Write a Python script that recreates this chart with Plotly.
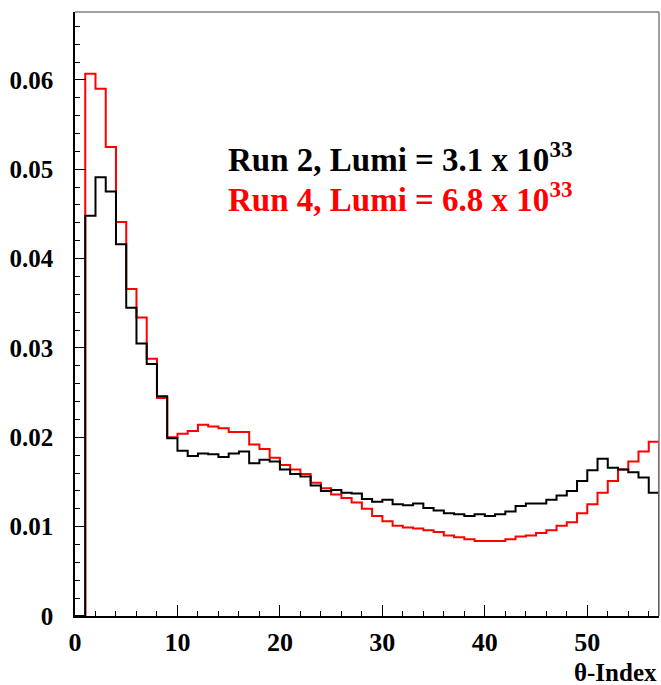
import plotly.graph_objects as go

# bin edges 0..57 (width 1); bin 0 is empty
bin_edges = list(range(0, 58))

run2_values = [
    0.0,
    0.0448, 0.0491, 0.0475, 0.0416, 0.0345, 0.0305, 0.0282, 0.0246, 0.0199,
    0.0185, 0.0179, 0.0182, 0.0181, 0.0178, 0.0182, 0.0184, 0.0171, 0.0175,
    0.0173, 0.0164, 0.0159, 0.0156, 0.0146, 0.0140, 0.0141, 0.0138, 0.0137,
    0.0131, 0.0128, 0.0130, 0.0125, 0.0124, 0.0126, 0.0121, 0.0118, 0.0115,
    0.0114, 0.0112, 0.0114, 0.0112, 0.0114, 0.0117, 0.0123, 0.0126, 0.0126,
    0.0130, 0.0135, 0.0140, 0.0151, 0.0163, 0.0176, 0.0166, 0.0164, 0.0161,
    0.0155, 0.0138,
]

run4_values = [
    0.0,
    0.0607, 0.0590, 0.0525, 0.0441, 0.0366, 0.0334, 0.0288, 0.0244, 0.0200,
    0.0204, 0.0207, 0.0214, 0.0212, 0.0210, 0.0206, 0.0206, 0.0192, 0.0187,
    0.0177, 0.0169, 0.0164, 0.0159, 0.0149, 0.0143, 0.0136, 0.0132, 0.0127,
    0.0120, 0.0112, 0.0106, 0.0101, 0.0099, 0.0098, 0.0096, 0.0094, 0.0090,
    0.0088, 0.0086, 0.0084, 0.0084, 0.0084, 0.0086, 0.0089, 0.0090, 0.0093,
    0.0096, 0.0101, 0.0105, 0.0115, 0.0125, 0.0138, 0.0151, 0.0164, 0.0173,
    0.0184, 0.0195,
]

x_tick_vals = [0, 10, 20, 30, 40, 50]
y_tick_vals = [0, 0.01, 0.02, 0.03, 0.04, 0.05, 0.06]
y_tick_text = ["0", "0.01", "0.02", "0.03", "0.04", "0.05", "0.06"]

label_run2 = "Run 2, Lumi = 3.1 x 10<sup>33</sup>"
label_run4 = "Run 4, Lumi = 6.8 x 10<sup>33</sup>"
x_title = "θ-Index"

FONT = "Liberation Serif"


def step_xy(values):
    xs = list(bin_edges[:-1]) + [bin_edges[-1], bin_edges[-1]]
    ys = list(values) + [values[-1], 0.0]
    return xs, ys


fig = go.Figure()
for vals, col in [(run4_values, "#ff0000"), (run2_values, "#000000")]:
    xs, ys = step_xy(vals)
    fig.add_trace(go.Scatter(x=xs, y=ys, mode="lines", line=dict(shape="hv", color=col, width=2),
                             showlegend=False, hoverinfo="skip"))

fig.update_layout(
    width=661, height=685,
    margin=dict(l=75, r=2, t=12, b=69),
    paper_bgcolor="white", plot_bgcolor="white",
    showlegend=False,
    font=dict(family=FONT, color="black"),
)
fig.update_xaxes(
    range=[0, 57], showgrid=False, zeroline=False,
    showline=True, linecolor="black", linewidth=1.5,
    ticks="inside", ticklen=11, tickwidth=1, tickcolor="black",
    tickvals=x_tick_vals,
    ticklabelstandoff=2,
    tickfont=dict(family=FONT, size=26, weight="bold", color="black"),
    minor=dict(dtick=2, tick0=0, ticks="inside", ticklen=5, tickcolor="black", tickwidth=1),
)
fig.update_yaxes(
    range=[0, 0.0676], showgrid=False, zeroline=False,
    showline=True, linecolor="black", linewidth=1.5,
    ticks="inside", ticklen=11, tickwidth=1, tickcolor="black",
    tickvals=y_tick_vals, ticktext=y_tick_text,
    ticklabelstandoff=15,
    tickfont=dict(family=FONT, size=25, weight="bold", color="black"),
    minor=dict(dtick=0.002, tick0=0, ticks="inside", ticklen=5, tickcolor="black", tickwidth=1),
)

# gray frame on top and right
fig.add_shape(type="line", xref="paper", yref="paper", x0=0, x1=1, y0=1, y1=1,
              line=dict(color="#808080", width=1.5))
fig.add_shape(type="line", xref="paper", yref="paper", x0=1, x1=1, y0=0, y1=1,
              line=dict(color="#808080", width=1.5))

fig.add_annotation(text=label_run2, xref="paper", yref="paper", x=0.259, y=0.760,
                   xanchor="left", yanchor="middle", showarrow=False,
                   font=dict(family=FONT, size=33, weight="bold", color="black"))
fig.add_annotation(text=label_run4, xref="paper", yref="paper", x=0.259, y=0.694,
                   xanchor="left", yanchor="middle", showarrow=False,
                   font=dict(family=FONT, size=33, weight="bold", color="#ff0000"))
fig.add_annotation(text=x_title, xref="paper", yref="paper", x=1.0, y=-0.093,
                   xanchor="right", yanchor="middle", showarrow=False,
                   font=dict(family=FONT, size=25, weight="bold", color="black"))

fig.write_html("out.html")
